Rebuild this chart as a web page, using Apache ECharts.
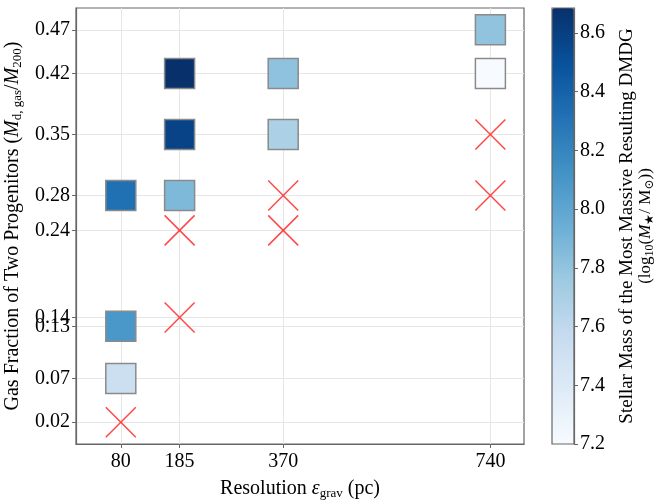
<!DOCTYPE html>
<html>
<head>
    <meta charset="utf-8">
    <script src="https://cdn.jsdelivr.net/npm/echarts@6.0.0/dist/echarts.min.js"></script>
    <style>
        html, body { margin: 0; padding: 0; background: #fff; }
        #chart { width: 658px; height: 502px; }
    </style>
</head>
<body>
    <div id="chart"></div>
</body>
<script type="text/javascript">
    // tick positions
    var resTicks = [80, 185, 370, 740];
    var gasTicks = [0.02, 0.07, 0.13, 0.14, 0.24, 0.28, 0.35, 0.42, 0.47];
    var cbTicks = [7.2, 7.4, 7.6, 7.8, 8.0, 8.2, 8.4, 8.6];

    // runs that produced a DMDG (square, coloured by stellar mass)
    var runRes = [80, 80, 80, 185, 185, 185, 370, 370, 740, 740];
    var runGas = [0.28, 0.13, 0.07, 0.42, 0.35, 0.28, 0.42, 0.35, 0.47, 0.42];
    var runMass = [8.32, 8.09, 7.53, 8.685, 8.58, 7.87, 7.81, 7.69, 7.80, 7.20];

    // runs without a DMDG (red cross)
    var failRes = [80, 185, 185, 370, 370, 740, 740];
    var failGas = [0.02, 0.24, 0.14, 0.28, 0.24, 0.35, 0.28];

    var massMin = 7.2;
    var massMax = 8.685;
    var blues = ['#f7fbff', '#deebf7', '#c6dbef', '#9ecae1', '#6baed6', '#4292c6', '#2171b5', '#08519c', '#08306b'];

    var serif = '"Liberation Serif", "DejaVu Serif", serif';
    var frame = '#666';

    var squares = runRes.map(function (r, i) { return [r, runGas[i], runMass[i]]; });
    var crosses = failRes.map(function (r, i) { return [r, failGas[i]]; });

    var option = {
        backgroundColor: '#fff',
        animation: false,
        textStyle: { fontFamily: serif, color: '#000' },
        grid: [
            { left: 76, top: 8, width: 448, height: 436, outerBoundsMode: 'none', containLabel: false, show: true, borderColor: frame, borderWidth: 1.2, backgroundColor: 'transparent' },
            { left: 552, top: 8, width: 22, height: 436, outerBoundsMode: 'none', containLabel: false, show: true, borderColor: frame, borderWidth: 1.2, backgroundColor: 'transparent', z: 10 }
        ],
        xAxis: [
            {
                gridIndex: 0,
                type: 'value',
                min: 0,
                max: 800,
                name: 'Resolution {i|ε}{s|grav} (pc)',
                nameLocation: 'middle',
                nameGap: 34,
                nameTextStyle: {
                    fontFamily: serif, fontSize: 20, color: '#000',
                    rich: {
                        i: { fontFamily: serif, fontSize: 20, fontStyle: 'italic' },
                        s: { fontFamily: serif, fontSize: 13, padding: [9, 0, 0, 0] }
                    }
                },
                axisLine: { show: true, onZero: false, lineStyle: { color: frame, width: 1.2 } },
                axisTick: { show: true, length: 4, customValues: resTicks, lineStyle: { color: frame } },
                axisLabel: { customValues: resTicks, fontFamily: serif, fontSize: 20, color: '#000', margin: 8 },
                splitLine: { show: true, lineStyle: { color: '#e6e6e6', width: 1 } }
            },
            { gridIndex: 1, type: 'value', min: 0, max: 1, show: false }
        ],
        yAxis: [
            {
                gridIndex: 0,
                type: 'value',
                min: -0.005,
                max: 0.495,
                name: 'Gas Fraction of Two Progenitors ({i|M}{s|d, gas}/{i|M}{s|200})',
                nameLocation: 'middle',
                nameGap: 50,
                nameTextStyle: {
                    fontFamily: serif, fontSize: 20, color: '#000',
                    rich: {
                        i: { fontFamily: serif, fontSize: 20, fontStyle: 'italic' },
                        s: { fontFamily: serif, fontSize: 13, padding: [9, 0, 0, 0] }
                    }
                },
                axisLine: { show: true, onZero: false, lineStyle: { color: frame, width: 1.2 } },
                axisTick: { show: true, length: 4, customValues: gasTicks, lineStyle: { color: frame } },
                axisLabel: {
                    customValues: gasTicks, fontFamily: serif, fontSize: 20, color: '#000', margin: 6,
                    formatter: function (v) { return v.toFixed(2); }
                },
                splitLine: { show: true, lineStyle: { color: '#e6e6e6', width: 1 } }
            },
            {
                gridIndex: 1,
                type: 'value',
                position: 'right',
                min: massMin,
                max: massMax,
                z: 10,
                name: '{t|Stellar Mass of the Most Massive Resulting DMDG}\n{u|(log}{us|10}{u|(}{ui|M}{us|★}{u|/ M}{us|⊙}{u|))}',
                nameLocation: 'middle',
                nameRotate: 90,
                nameGap: 44,
                nameTextStyle: {
                    fontFamily: serif, color: '#000',
                    rich: {
                        t: { fontFamily: serif, fontSize: 19, lineHeight: 19 },
                        u: { fontFamily: serif, fontSize: 17, lineHeight: 18 },
                        ui: { fontFamily: serif, fontSize: 17, lineHeight: 18, fontStyle: 'italic' },
                        us: { fontFamily: serif, fontSize: 12, lineHeight: 18, padding: [7, 0, 0, 0] }
                    }
                },
                axisLine: { show: true, onZero: false, lineStyle: { color: frame, width: 1.2 } },
                axisTick: { show: true, length: 4, customValues: cbTicks, lineStyle: { color: frame } },
                axisLabel: {
                    customValues: cbTicks, fontFamily: serif, fontSize: 20, color: '#000', margin: 6,
                    formatter: function (v) { return v.toFixed(1); }
                },
                splitLine: { show: false }
            }
        ],
        visualMap: {
            type: 'continuous',
            seriesIndex: 0,
            dimension: 2,
            min: massMin,
            max: massMax,
            calculable: false,
            hoverLink: false,
            left: 552,
            top: 8,
            padding: 0,
            itemWidth: 22,
            itemHeight: 436,
            inRange: { color: blues }
        },
        series: [
            {
                name: 'DMDG',
                type: 'scatter',
                xAxisIndex: 0,
                yAxisIndex: 0,
                symbol: 'rect',
                symbolSize: 30,
                itemStyle: { borderColor: '#8a8a8a', borderWidth: 1.5, opacity: 1 },
                data: squares,
                z: 3
            },
            {
                name: 'No DMDG',
                type: 'scatter',
                xAxisIndex: 0,
                yAxisIndex: 0,
                symbol: 'path://M0,0L10,10M10,0L0,10',
                symbolSize: 30,
                itemStyle: { color: 'transparent', borderColor: '#ff1a1a', borderWidth: 1.5 },
                data: crosses,
                z: 3
            }
        ]
    };

    var chart = echarts.init(document.getElementById('chart'));
    chart.setOption(option);
</script>
</html>
